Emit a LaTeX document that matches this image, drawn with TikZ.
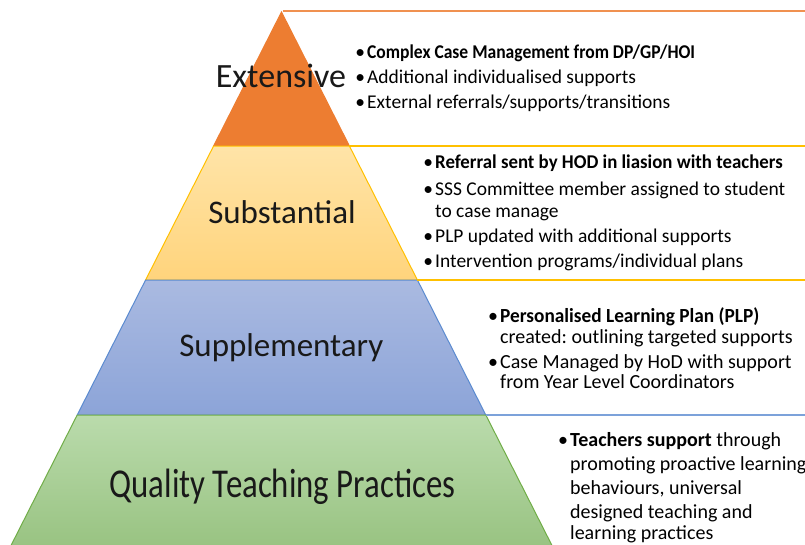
\documentclass[tikz,border=0pt]{standalone}
\usepackage{fontspec}
\setmainfont{Carlito}
\newfontfamily\boldnarrow[FakeStretch=0.9]{Carlito}
\newfontfamily\boldslight[FakeStretch=0.965]{Carlito}
\newfontfamily\qtpfont[FakeStretch=0.8]{Carlito}
\newcommand\bul{\llap{•\hspace{2pt}}}
\frenchspacing
\definecolor{orgC}{HTML}{ED7D31}
\definecolor{ylwT}{HTML}{FFE4A8}
\definecolor{ylwB}{HTML}{FFD47C}
\definecolor{ylwL}{HTML}{FFC000}
\definecolor{bluT}{HTML}{AABAE1}
\definecolor{bluB}{HTML}{8CA4D8}
\definecolor{bluL}{HTML}{5B8BD0}
\definecolor{grnT}{HTML}{BADBAC}
\definecolor{grnB}{HTML}{9CC884}
\definecolor{grnL}{HTML}{70AD47}
\tikzset{
  layer/.style={line width=1pt, line join=miter},
  sepline/.style={line width=1.5pt},
  ttl/.style={anchor=base, inner sep=0pt, text=black!90, font=\fontsize{33}{36}\selectfont},
  txt/.style={anchor=base west, inner sep=0pt, font=\fontsize{19.5}{22}\selectfont},
  txtb/.style={anchor=base west, inner sep=0pt, font=\fontsize{20}{22}\selectfont},
}
\begin{document}
\begin{tikzpicture}[x=1pt,y=-1pt]
\useasboundingbox (0,0) rectangle (805,544);
\fill[white] (0,0) rectangle (805,544);
% pyramid layers
\coordinate (apex) at (281.5,12);
\path[layer, fill=orgC, draw=orgC] (apex) -- (349.4,146) -- (213.6,146) -- cycle;
\path[layer, top color=ylwT, bottom color=ylwB, draw=ylwL] (213.6,146) -- (349.4,146) -- (417.4,280) -- (145.6,280) -- cycle;
\path[layer, top color=bluT, bottom color=bluB, draw=bluL] (145.6,280) -- (417.4,280) -- (485.8,415) -- (77.2,415) -- cycle;
\path[layer, top color=grnT, bottom color=grnB!97!black, draw=grnL] (77.2,415) -- (485.8,415) -- (555.3,552) -- (7.7,552) -- cycle;
% box lines
\coordinate (r0) at (805,11);
\coordinate (r1) at (805,146);
\coordinate (r2) at (805,280);
\coordinate (r3) at (805,415);
\draw[sepline, orgC!85] (283,11) -- (r0);
\draw[sepline, ylwL] (349.4,146) -- (r1);
\draw[sepline, ylwL] (417.4,280) -- (r2);
\draw[sepline, bluL!80] (485.8,415) -- (r3);
% titles
\node[ttl, font=\fontsize{34}{36}\selectfont] (t1) at (281,87.3) {Extensive};
\node[ttl] (t2) at (282,223.3) {Substantial};
\node[ttl] (t3) at (281.3,356.7) {Supplementary};
\node[ttl, font=\fontsize{41}{44}\qtpfont] (t4) at (282.5,497.7) {Quality Teaching Practices};
% extensive bullets
\node[txt] (e1) at (367,58) {\bul{\boldnarrow\bfseries Complex Case Management from DP/GP/HOI}};
\node[txt] (e2) at (367,83) {\bul Additional individualised supports};
\node[txt] (e3) at (367,108) {\bul External referrals/supports/transitions};
% substantial bullets
\node[txt] (s1) at (435,168) {\bul{\boldslight\bfseries Referral sent by HOD in liasion with teachers}};
\node[txt] (s2) at (435,195) {\bul\makebox[350pt][s]{SSS Committee member assigned to student}};
\node[txt] (s3) at (435,217) {to case manage};
\node[txt] (s4) at (435,242) {\bul PLP updated with additional supports};
\node[txt] (s5) at (435,267) {\bul Intervention programs/individual plans};
% supplementary bullets
\node[txtb] (p1) at (500,322) {\bul{\boldslight\bfseries Personalised Learning Plan (PLP)}};
\node[txtb] (p2) at (500,343) {created: outlining targeted supports};
\node[txtb] (p3) at (500,368) {\bul Case Managed by HoD with support};
\node[txtb] (p4) at (500,388) {from Year Level Coordinators};
% quality bullets
\node[txtb] (q1) at (570,446) {\bul{\bfseries Teachers support} through};
\node[txtb] (q2) at (570,470) {promoting proactive learning};
\node[txtb] (q3) at (570,494) {behaviours, universal};
\node[txtb] (q4) at (570,518) {designed teaching and};
\node[txtb] (q5) at (570,539) {learning practices};
\end{tikzpicture}
\end{document}
